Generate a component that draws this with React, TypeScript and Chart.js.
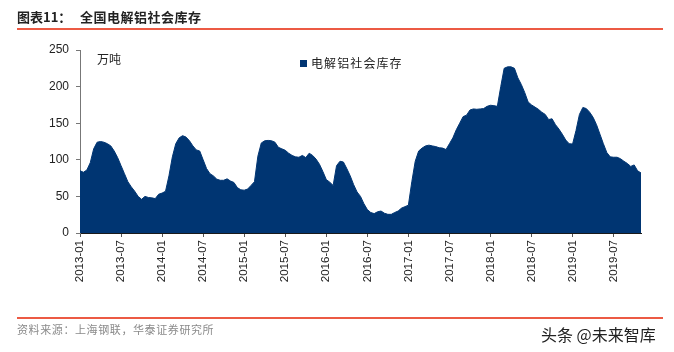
import React, { useEffect, useRef } from "react";
import { Chart, registerables } from "chart.js";

Chart.register(...registerables);

// 全国电解铝社会库存（万吨），半月度读数
const inv2013 = [85, 83, 86, 96, 115, 124, 125, 124, 122, 119, 112, 103, 92, 81, 70, 63, 57, 50, 46, 50, 48.5, 48, 47, 53];
const inv2014 = [54.5, 57, 78, 104, 122, 130, 133, 131, 126, 119, 113.5, 112, 100, 88, 81, 78, 73.5, 72, 72, 74, 71, 69, 62, 59];
const inv2015 = [58.5, 60, 65, 70, 105, 123, 126, 126.5, 126, 124, 117, 115, 113, 109, 106, 104, 103.5, 106, 103, 109, 106, 101, 94, 84];
const inv2016 = [73, 69.5, 65, 92, 98, 97, 88, 78, 66, 56, 50, 40, 32, 28, 26.5, 29, 30, 27, 25.5, 25.5, 28, 30, 34, 36];
const inv2017 = [38, 70, 98, 112, 116, 119, 120, 119, 118, 116.5, 116, 114, 122, 130, 141, 150, 159, 161, 168, 169.5, 169, 169.5, 170, 173];
const inv2018 = [174.5, 174, 173, 200, 225, 227, 227, 225, 212, 203, 192, 179, 175, 172, 169, 165, 162, 155, 156, 148, 142, 135, 127, 122];
const inv2019 = [121.5, 140, 162, 171.5, 170, 165, 158, 148, 135, 122, 110, 104, 103.5, 103.5, 101.5, 98, 95, 91, 93, 85, 82];

const years = [2013, 2014, 2015, 2016, 2017, 2018, 2019];
const yearSeries = [inv2013, inv2014, inv2015, inv2016, inv2017, inv2018, inv2019];

const xTickLabels = [
  "2013-01", "2013-07", "2014-01", "2014-07", "2015-01", "2015-07", "2016-01",
  "2016-07", "2017-01", "2017-07", "2018-01", "2018-07", "2019-01", "2019-07",
];
const yTicks = [0, 50, 100, 150, 200, 250];

const seriesName = "电解铝社会库存";
const NAVY = "#003572";

const toMonth = (label: string) => {
  const [y, m] = label.split("-").map(Number);
  return (y - years[0]) * 12 + (m - 1);
};

export default function App() {
  const canvasRef = useRef<HTMLCanvasElement | null>(null);

  useEffect(() => {
    const canvas = canvasRef.current;
    if (!canvas) return;
    const points = yearSeries.flatMap((arr, yi) =>
      arr.map((v, i) => ({ x: (years[yi] - years[0]) * 12 + i * 0.5, y: v }))
    );
    const lastX = points[points.length - 1].x;
    const chart = new Chart(canvas, {
      type: "line",
      data: {
        datasets: [
          {
            label: seriesName,
            data: points,
            fill: "origin",
            backgroundColor: NAVY,
            borderColor: NAVY,
            borderWidth: 1,
            pointRadius: 0,
            tension: 0,
          },
        ],
      },
      options: {
        animation: false,
        responsive: false,
        devicePixelRatio: 1,
        layout: { padding: { top: 50, right: 674 - 641, left: 0, bottom: 0 } },
        plugins: { legend: { display: false }, tooltip: { enabled: false } },
        scales: {
          x: {
            type: "linear",
            min: 0,
            max: lastX,
            afterBuildTicks: (scale: any) => {
              scale.ticks = xTickLabels.map((l) => ({ value: toMonth(l) }));
            },
            afterFit: (scale: any) => {
              scale.height = 119;
            },
            ticks: {
              autoSkip: false,
              minRotation: 90,
              maxRotation: 90,
              padding: 3,
              color: "#222",
              font: { family: "'Liberation Sans', Arial, sans-serif", size: 11.5 },
              callback: (value: any) => {
                const idx = xTickLabels.findIndex((l) => toMonth(l) === value);
                return idx >= 0 ? xTickLabels[idx] : null;
              },
            },
            grid: {
              display: true,
              drawOnChartArea: false,
              drawTicks: true,
              tickLength: 4,
              color: "#555",
            },
            border: { display: true, color: "#1a1a1a", width: 1 },
          },
          y: {
            min: 0,
            max: 250,
            afterBuildTicks: (scale: any) => {
              scale.ticks = yTicks.map((v) => ({ value: v }));
            },
            afterFit: (scale: any) => {
              scale.width = 80;
            },
            ticks: {
              padding: 7,
              color: "#222",
              font: { family: "'Liberation Sans', Arial, sans-serif", size: 12 },
            },
            grid: {
              display: true,
              drawOnChartArea: false,
              drawTicks: true,
              tickLength: 4,
              color: "#777",
            },
            border: { display: true, color: "#777", width: 1 },
          },
        },
      },
    });
    return () => chart.destroy();
  }, []);

  const cjk = "'Noto Sans CJK SC', 'Noto Sans', sans-serif";

  return (
    <div
      style={{
        position: "absolute",
        left: 0,
        top: 0,
        width: 674,
        height: 352,
        background: "#fff",
        overflow: "hidden",
      }}
    >
      <canvas
        ref={canvasRef}
        width={674}
        height={352}
        style={{ position: "absolute", left: 0, top: 0, width: 674, height: 352 }}
      />
      <div
        style={{
          position: "absolute",
          left: 17,
          top: 8,
          fontFamily: cjk,
          fontSize: 13,
          fontWeight: 700,
          lineHeight: "18px",
          color: "#222",
          whiteSpace: "nowrap",
        }}
      >
        <span style={{ display: "inline-block", width: 63 }}>图表11：</span>
        <span style={{ letterSpacing: 0.5 }}>全国电解铝社会库存</span>
      </div>
      <div style={{ position: "absolute", left: 17, top: 28, width: 646, height: 2, background: "#ec5a44" }} />
      <div
        style={{
          position: "absolute",
          left: 97,
          top: 51,
          fontFamily: cjk,
          fontSize: 12,
          lineHeight: "16px",
          color: "#222",
          whiteSpace: "nowrap",
        }}
      >
        万吨
      </div>
      <div
        style={{
          position: "absolute",
          left: 300,
          top: 55,
          display: "flex",
          alignItems: "center",
          fontFamily: cjk,
          fontSize: 12,
          lineHeight: "16px",
          color: "#222",
          whiteSpace: "nowrap",
        }}
      >
        <span style={{ display: "inline-block", width: 7, height: 7, background: NAVY, marginRight: 4 }} />
        <span style={{ letterSpacing: 1.1 }}>{seriesName}</span>
      </div>
      <div style={{ position: "absolute", left: 17, top: 317, width: 646, height: 2, background: "#ec5a44" }} />
      <div
        style={{
          position: "absolute",
          left: 17,
          top: 321,
          fontFamily: cjk,
          fontSize: 11,
          lineHeight: "16px",
          color: "#8a8a8a",
          letterSpacing: 0.6,
          whiteSpace: "nowrap",
        }}
      >
        资料来源：上海钢联，华泰证券研究所
      </div>
      <div
        style={{
          position: "absolute",
          left: 541,
          top: 323,
          fontFamily: cjk,
          fontSize: 16,
          lineHeight: "22px",
          color: "#222",
          whiteSpace: "nowrap",
        }}
      >
        头条 @未来智库
      </div>
    </div>
  );
}
